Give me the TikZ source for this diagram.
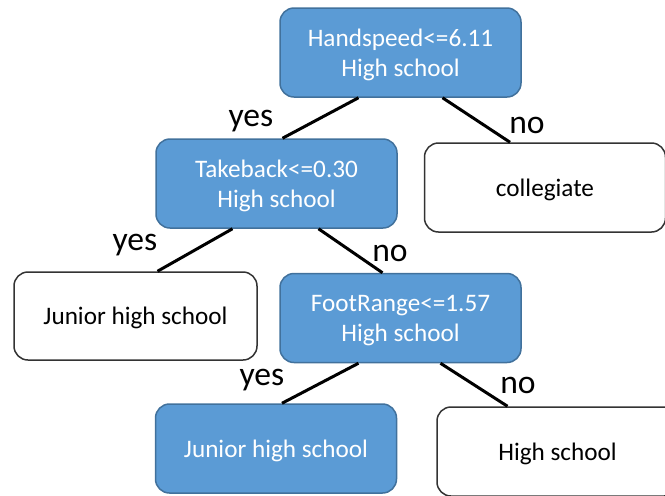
\documentclass[tikz,border=0pt]{standalone}
\usepackage{fontspec}
\setmainfont{Carlito}
\definecolor{splitfill}{HTML}{5B9BD5}
\definecolor{splitedge}{HTML}{41719C}
\begin{document}
\begin{tikzpicture}[x=0.5pt, y=-0.5pt,
  every node/.style={font=\fontsize{12.6}{15}\selectfont},
  split/.style={draw=splitedge, fill=splitfill, text=white, rounded corners=7pt,
    line width=0.75pt, minimum width=120.5pt, minimum height=44.5pt,
    align=center, inner sep=0pt, text depth=0pt},
  leaf/.style={split, draw=black!80, fill=white, text=black},
  branch/.style={line width=1.5pt},
  answer/.style={font=\fontsize{16.8}{20}\selectfont, inner sep=0pt}]
  \useasboundingbox (0,0) rectangle (665,495);
  \clip (0,0) rectangle (665,495);

  % Splits
  \node[split] (root) at (400.5,52.5) {Handspeed<=6.11\\High school};
  \node[split] (take) at (276.5,183.5) {Takeback<=0.30\\High school};
  \node[split] (foot) at (400.5,318) {FootRange<=1.57\\High school};

  % Leaves
  \node[leaf] (coll) at (545,187.5) {collegiate};
  \node[leaf, minimum width=121.5pt, minimum height=44pt] (junA) at (135.5,316) {Junior high school};
  \node[split] (junB) at (276,448.5) {Junior high school};
  \node[leaf] (hs) at (557.5,451.5) {High school};

  % Branches
  \draw[branch] ([xshift=-21pt]root.south) -- ([xshift=3pt]take.north);
  \draw[branch] ([xshift=21pt]root.south) -- ([xshift=-17.5pt]coll.north);
  \draw[branch] ([xshift=-22pt]take.south) -- ([xshift=11pt]junA.north);
  \draw[branch] ([xshift=21pt]take.south) -- ([xshift=-9pt]foot.north);
  \draw[branch] ([xshift=-21pt]foot.south) -- ([xshift=3pt]junB.north);
  \draw[branch] ([xshift=20pt]foot.south) -- ([xshift=-25pt]hs.north);

  % Answers
  \node[answer] (yesA) at (251,121) {yes};
  \node[answer] (noA) at (527,125) {no};
  \node[answer] (yesB) at (135,245) {yes};
  \node[answer] (noB) at (390,253) {no};
  \node[answer] (yesC) at (262,380) {yes};
  \node[answer] (noC) at (518,385) {no};
\end{tikzpicture}
\end{document}
